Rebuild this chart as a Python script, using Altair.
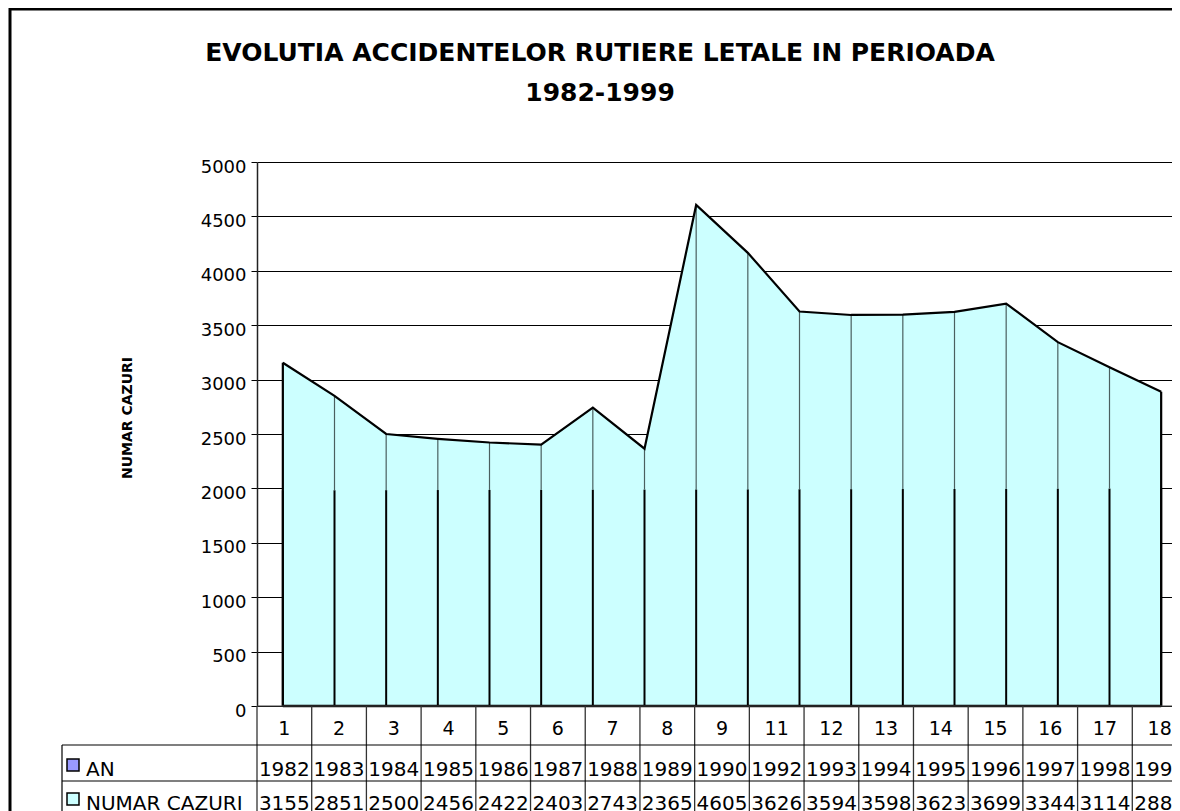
import altair as alt
import pandas as pd

# ---------------- data ----------------
YEARS = [1982, 1983, 1984, 1985, 1986, 1987, 1988, 1989, 1990, 1991,
         1992, 1993, 1994, 1995, 1996, 1997, 1998, 1999]
CASES = [3155, 2851, 2500, 2456, 2422, 2403, 2743, 2365, 4605, 4165,
         3626, 3594, 3598, 3623, 3699, 3344, 3114, 2888]
ROW_NO = [1, 2, 3, 4, 5, 6, 7, 8, 9, 10, 11, 12, 13, 14, 15, 16, 17, 18]
HIDDEN_ROWS = [10]          # row 10 (1991) is hidden in the data table
Y_TICKS = [0, 500, 1000, 1500, 2000, 2500, 3000, 3500, 4000, 4500, 5000]
SERIES = ["AN", "NUMAR CAZURI"]
SERIES_COLORS = ["#9999FF", "#CCFFFF"]
TITLE_LINES = ["EVOLUTIA ACCIDENTELOR RUTIERE LETALE IN PERIOADA", "1982-1999"]
Y_TITLE = "NUMAR CAZURI"

# ---------------- frames ----------------
n = len(YEARS)
pts = pd.DataFrame({
    "idx": list(range(n)),
    "pos": [i + 0.5 for i in range(n)],
    "row": ROW_NO,
    "year": YEARS,
    "cases": CASES,
    "base": [0] * n,
})
tab = pts[~pts["row"].isin(HIDDEN_ROWS)].reset_index(drop=True)
tab["col"] = [j + 0.5 for j in range(len(tab))]
bounds = pd.DataFrame({"b": list(range(len(tab) + 1))})
one = pd.DataFrame({"k": [0]})

PLOT_W = 930      # full width of the category area (runs past the window edge)
VIEW_W = 915      # visible part
H = 544
FONT = "DejaVu Sans"
vis = VIEW_W / PLOT_W

xs_plot = alt.Scale(domain=[0, n * vis])
xs_tab = alt.Scale(domain=[0, len(tab) * vis])
ys = alt.Scale(domain=[0, 5000])

X = alt.X("pos:Q", scale=xs_plot, axis=None)
XT = alt.X("col:Q", scale=xs_tab, axis=None)

yaxis = alt.Axis(values=Y_TICKS, format="d", grid=True, gridColor="black", gridWidth=1,
                 domainColor="#222", domainWidth=1.5, tickColor="black", tickSize=6,
                 labelFont=FONT, labelFontSize=18, labelColor="black",
                 labelPadding=5, labelBaseline="alphabetic", labelOffset=10,
                 title=None)

base = alt.Chart(pts)

area = base.mark_area(color=SERIES_COLORS[1], opacity=1).encode(
    x=X, y=alt.Y("cases:Q", scale=ys, axis=yaxis))
lower = base.mark_rule(color="black", strokeWidth=2).encode(
    x=X, y=alt.Y("base:Q", scale=ys), y2="year:Q")
upper = base.mark_rule(color="#4a5f5f", strokeWidth=1.2).encode(
    x=X, y=alt.Y("year:Q", scale=ys), y2="cases:Q")
edges = base.transform_filter(
    (alt.datum.idx == 0) | (alt.datum.idx == n - 1)
).mark_rule(color="black", strokeWidth=2.2).encode(
    x=X, y=alt.Y("base:Q", scale=ys), y2="cases:Q")
top = base.mark_line(color="black", strokeWidth=2.2).encode(
    x=X, y=alt.Y("cases:Q", scale=ys))
bottom = base.mark_line(color="black", strokeWidth=2.5).encode(
    x=X, y=alt.Y("base:Q", scale=ys))

xline = alt.Chart(one).mark_rule(color="#444", strokeWidth=1).encode(
    x=alt.value(0), x2=alt.value(PLOT_W), y=alt.value(H))

# ---------------- data table ----------------
ROW_Y = [H, 583, 619, 656]
LEFT_X = -195
grid_col = "#333"
tab_vlines = alt.Chart(bounds).mark_rule(color=grid_col, strokeWidth=1.3).encode(
    x=alt.X("b:Q", scale=xs_tab, axis=None), y=alt.value(ROW_Y[0]), y2=alt.value(ROW_Y[3]))
hl1 = alt.Chart(one).mark_rule(color="black", strokeWidth=1.2).encode(
    x=alt.value(LEFT_X), x2=alt.value(PLOT_W), y=alt.value(ROW_Y[1]))
hl2 = alt.Chart(one).mark_rule(color="black", strokeWidth=1.2).encode(
    x=alt.value(LEFT_X), x2=alt.value(PLOT_W), y=alt.value(ROW_Y[2]))
hl3 = alt.Chart(one).mark_rule(color="black", strokeWidth=1.2).encode(
    x=alt.value(LEFT_X), x2=alt.value(PLOT_W), y=alt.value(ROW_Y[3]))
vl_left = alt.Chart(one).mark_rule(color="black", strokeWidth=1.2).encode(
    x=alt.value(LEFT_X), y=alt.value(ROW_Y[1]), y2=alt.value(ROW_Y[3] + 20))

tbase = alt.Chart(tab)
t_row = tbase.mark_text(font=FONT, fontSize=19, color="black", align="center",
                        baseline="alphabetic").encode(x=XT, y=alt.value(573), text="row:N")
t_year = tbase.mark_text(font=FONT, fontSize=20, color="black", align="center",
                         baseline="alphabetic").encode(x=XT, y=alt.value(614), text="year:N")
t_cases = tbase.mark_text(font=FONT, fontSize=20, color="black", align="center",
                          baseline="alphabetic").encode(x=XT, y=alt.value(648), text="cases:N")

legend_layers = []
TXT_Y = [614, 648]
for s, c, ty in zip(SERIES, SERIES_COLORS, TXT_Y):
    legend_layers.append(
        alt.Chart(one).mark_rect(color=c, stroke="black", strokeWidth=1.5).encode(
            x=alt.value(-190), x2=alt.value(-178), y=alt.value(ty - 17), y2=alt.value(ty - 5)))
    legend_layers.append(
        alt.Chart(pd.DataFrame({"t": [s]})).mark_text(
            font=FONT, fontSize=20, color="black", align="left", baseline="alphabetic"
        ).encode(x=alt.value(-171), y=alt.value(ty), text="t:N"))

# ---------------- titles & frame ----------------
title_layers = []
for line, ty in zip(TITLE_LINES, [-101, -61]):
    title_layers.append(
        alt.Chart(pd.DataFrame({"t": [line]})).mark_text(
            font=FONT, fontSize=25, fontWeight="bold", color="black",
            align="center", baseline="alphabetic"
        ).encode(x=alt.value(343), y=alt.value(ty), text="t:N"))

ytitle = alt.Chart(pd.DataFrame({"t": [Y_TITLE]})).mark_text(
    font=FONT, fontSize=14, fontWeight="bold", color="black", angle=270,
    align="center", baseline="middle"
).encode(x=alt.value(-129), y=alt.value(256), text="t:N")

frame = alt.Chart(one).mark_rect(fillOpacity=0, stroke="black", strokeWidth=3).encode(
    x=alt.value(-247), x2=alt.value(1100), y=alt.value(-153), y2=alt.value(800))

chart = alt.layer(
    area, lower, upper, edges, top, bottom, xline,
    tab_vlines, hl1, hl2, hl3, vl_left,
    t_row, t_year, t_cases,
    *legend_layers, *title_layers, ytitle, frame
).resolve_scale(x="independent").properties(
    width=VIEW_W, height=H,
    padding={"left": 249, "top": 154, "right": 0, "bottom": 105},
    autosize=alt.AutoSizeParams(type="none"),
    background="white",
).configure_view(stroke=None)

chart.save("out.html", embed_options={"renderer": "svg", "actions": False})
